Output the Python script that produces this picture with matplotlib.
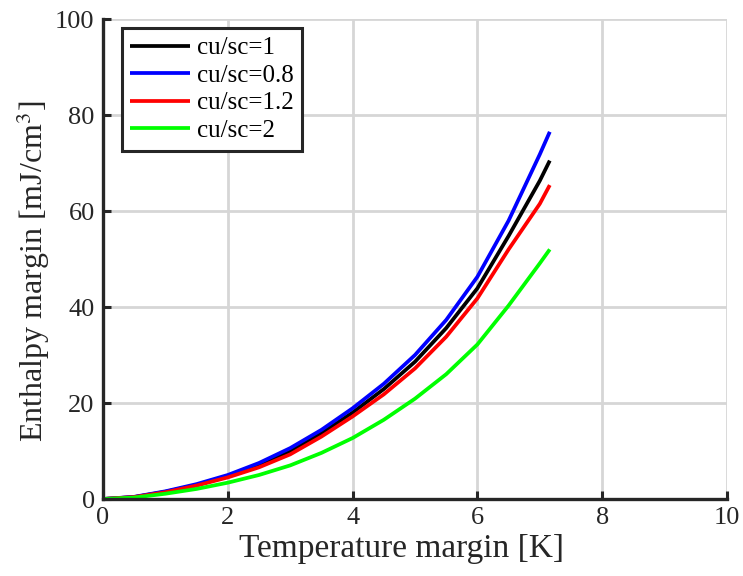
import matplotlib
matplotlib.use("Agg")
import matplotlib.pyplot as plt

# Data
x = [0, 0.5, 1, 1.5, 2, 2.5, 3, 3.5, 4, 4.5, 5, 5.5, 6, 6.5, 7, 7.16]
y_cu1 = [0, 0.4, 1.5, 2.9, 4.7, 7.0, 9.9, 13.7, 18.0, 22.9, 28.6, 35.6, 43.9, 54.8, 66.3, 70.5]
y_cu08 = [0, 0.45, 1.6, 3.1, 5.0, 7.5, 10.6, 14.4, 18.9, 24.0, 30.0, 37.3, 46.3, 58.0, 71.8, 76.5]
y_cu12 = [0, 0.4, 1.4, 2.8, 4.5, 6.6, 9.3, 13.0, 17.2, 21.8, 27.2, 33.8, 41.8, 52.0, 61.5, 65.4]
y_cu2 = [0, 0.3, 1.1, 2.1, 3.4, 5.0, 7.0, 9.6, 12.7, 16.5, 20.9, 26.0, 32.2, 40.3, 49.1, 52.0]

labels = ["cu/sc=1", "cu/sc=0.8", "cu/sc=1.2", "cu/sc=2"]
colors = ["#000000", "#0000ff", "#ff0000", "#00ff00"]
series = [y_cu1, y_cu08, y_cu12, y_cu2]

xticks = [0, 2, 4, 6, 8, 10]
yticks = [0, 20, 40, 60, 80, 100]

plt.rcParams['font.family'] = ['Liberation Serif', 'DejaVu Serif']
plt.rcParams['mathtext.fontset'] = 'stix'

fig = plt.figure(figsize=(7.43, 5.76), dpi=100)
ax = fig.add_axes([103/743, 77/576, 624/743, 480/576])

for ys, c, lab in zip(series, colors, labels):
    ax.plot(x, ys, color=c, lw=2.7, label=lab, solid_capstyle='butt',
            solid_joinstyle='round')

ax.set_xlim(0, 10)
ax.set_ylim(0, 100)
ax.set_xticks(xticks)
ax.set_yticks(yticks)

dark = '#262626'
ax.grid(True, color='#d6d6d6', lw=2.0)
ax.set_axisbelow(True)
for s in ['top', 'right']:
    ax.spines[s].set_visible(False)
for s in ['left', 'bottom']:
    ax.spines[s].set_linewidth(2.4)
    ax.spines[s].set_color(dark)
ax.tick_params(direction='in', length=6, width=2.2, colors=dark,
               labelsize=19, pad=6)

ax.set_xlabel("Temperature margin [K]", fontsize=24, color=dark, labelpad=3)
ax.xaxis.label.set_x(0.479)
ax.set_ylabel("Enthalpy margin [mJ/cm$^3$]", fontsize=23, color=dark, labelpad=2)
ax.yaxis.label.set_y(0.475)

leg = ax.legend(loc='upper left', bbox_to_anchor=(0.030, 0.981), borderaxespad=0,
                fontsize=18, frameon=True, fancybox=False, handlelength=2.4,
                handletextpad=0.25, labelspacing=0.2, borderpad=0.35)
leg.get_frame().set_edgecolor(dark)
leg.get_frame().set_linewidth(2.2)
leg.get_frame().set_alpha(1)

fig.savefig("out.png", dpi=100)
